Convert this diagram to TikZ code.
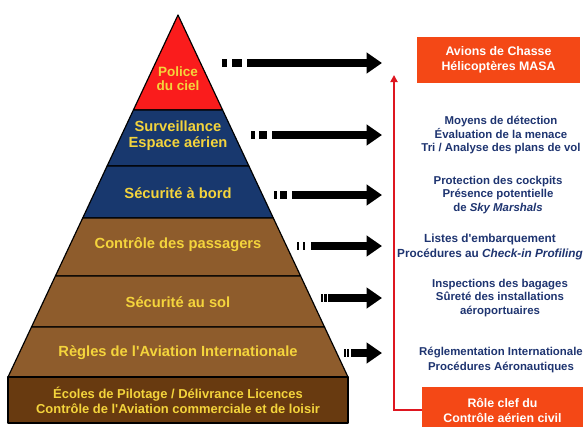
\documentclass[tikz,border=0pt]{standalone}
\usepackage{fontspec}
\setmainfont{Liberation Sans}
\usetikzlibrary{arrows.meta}

\definecolor{rouge}{RGB}{250,28,28}
\definecolor{marine}{RGB}{24,56,110}
\definecolor{brun}{RGB}{142,92,44}
\definecolor{brunfonce}{RGB}{104,58,16}
\definecolor{jaune}{RGB}{244,212,60}
\definecolor{encre}{RGB}{30,52,112}
\definecolor{orange}{RGB}{244,72,22}
\definecolor{trait}{RGB}{222,22,32}

\newcommand{\apos}{\textquotesingle}

\tikzset{
  fleche/.style={line width=6.5pt, -{Triangle[length=13pt,width=17pt]}},
  niveau/.style={text=jaune, align=center, font=\bfseries\fontsize{12.5}{13.5}\selectfont},
  info/.style={text=encre, align=center, font=\bfseries\fontsize{9.7}{11.6}\selectfont},
  cadre/.style={fill=orange, text=white, align=center, font=\bfseries\fontsize{10.5}{12.8}\selectfont}
}

\begin{document}
\begin{tikzpicture}[x=0.85pt,y=-0.85pt]
  \useasboundingbox (0,0) rectangle (583,426);

  % pyramid
  \begin{scope}[draw=black, line width=1pt, line join=round]
    \filldraw[fill=rouge]  (178,15) -- (222.6,110) -- (133.4,110) -- cycle;
    \filldraw[fill=marine] (133.4,110) -- (222.6,110) -- (248.9,166) -- (107.1,166) -- cycle;
    \filldraw[fill=marine] (107.1,166) -- (248.9,166) -- (273.3,218) -- (82.7,218) -- cycle;
    \filldraw[fill=brun]   (82.7,218) -- (273.3,218) -- (300.6,276) -- (55.4,276) -- cycle;
    \filldraw[fill=brun]   (55.4,276) -- (300.6,276) -- (324.5,327) -- (31.5,327) -- cycle;
    \filldraw[fill=brun]   (31.5,327) -- (324.5,327) -- (348,377) -- (8,377) -- cycle;
    \filldraw[fill=brunfonce] (8,377) rectangle (348,423);
  \end{scope}

  \begin{scope}[every node/.style={niveau}]
    \node[font=\bfseries\fontsize{11.5}{12}\selectfont] (police) at (178,79) {Police\\du ciel};
    \node (surv)   at (178,136) {Surveillance\\Espace aérien};
    \node (bord)   at (178,193) {Sécurité à bord};
    \node (passag) at (178,245) {Contrôle des passagers};
    \node (sol)    at (178,302) {Sécurité au sol};
    \node (regles) at (178,353) {Règles de l\apos Aviation Internationale};
    \node[font=\bfseries\fontsize{11}{12.8}\selectfont] (ecoles) at (178,400)
      {Écoles de Pilotage / Délivrance Licences\\Contrôle de l\apos Aviation commerciale et de loisir};
  \end{scope}

  % right column
  \node[cadre, minimum width=163*0.85pt, minimum height=46*0.85pt] (chasse) at (498.5,60)
    {Avions de Chasse\\Hélicoptères MASA};
  \begin{scope}[every node/.style={info}]
    \node (moyens) at (501,135) {Moyens de détection\\Évaluation de la menace\\Tri / Analyse des plans de vol};
    \node (cockp)  at (498,195) {Protection des cockpits\\Présence potentielle\\de \textit{Sky Marshals}};
    \node[font=\bfseries\fontsize{10}{12.8}\selectfont] (listes) at (490,246.5)
      {Listes d\apos embarquement\\Procédures au \textit{Check-in Profiling}};
    \node (bagag)  at (500,298) {Inspections des bagages\\Sûreté des installations\\aéroportuaires};
    \node[font=\bfseries\fontsize{9.7}{12}\selectfont] (regl) at (501,360)
      {Réglementation Internationale\\Procédures Aéronautiques};
  \end{scope}
  \node[cadre, minimum width=161*0.85pt, minimum height=46*0.85pt] (role) at (502.5,410)
    {Rôle clef du\\Contrôle aérien civil};

  % arrows
  \coordinate (a1) at (222,63);  \coordinate (b1) at (382,63);
  \coordinate (a2) at (251,135); \coordinate (b2) at (382,135);
  \coordinate (a3) at (274,195); \coordinate (b3) at (382,195);
  \coordinate (a4) at (297,246); \coordinate (b4) at (382,246);
  \coordinate (a5) at (321,298); \coordinate (b5) at (382,298);
  \coordinate (a6) at (344,353); \coordinate (b6) at (382,353);
  \draw[fleche, dash pattern=on 4.3pt off 4.3pt on 8.5pt off 4.3pt on 400pt] (a1) -- (b1);
  \draw[fleche, dash pattern=on 3.4pt off 3.4pt on 6.8pt off 4.3pt on 400pt] (a2) -- (b2);
  \draw[fleche, dash pattern=on 2.6pt off 2.6pt on 6pt off 4pt on 400pt] (a3) -- (b3);
  \draw[fleche, line width=6pt, dash pattern=on 1.7pt off 3.4pt on 1.7pt off 5pt on 400pt] (a4) -- (b4);
  \draw[fleche, line width=6pt, dash pattern=on 1.7pt off 1pt on 2.6pt off 1pt on 400pt] (a5) -- (b5);
  \draw[fleche, line width=6pt, dash pattern=on 1.7pt off 0.9pt on 1.7pt off 1.7pt on 400pt] (a6) -- (b6);

  \coordinate (coin) at (394,410);
  \coordinate (haut) at (394,75);
  \draw[trait, line width=1.6pt, -{Triangle[length=6pt,width=6pt]}] (role.west) -- (coin) -- (haut);

\end{tikzpicture}
\end{document}
